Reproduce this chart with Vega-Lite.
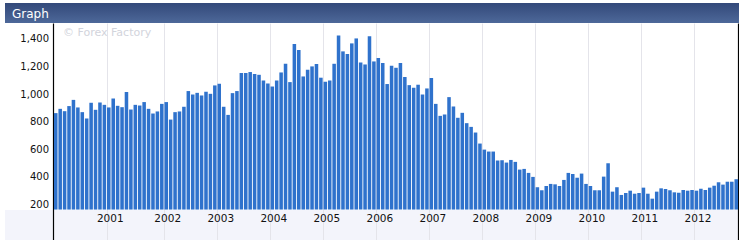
{
  "$schema": "https://vega.github.io/schema/vega-lite/v6.json",
  "background": "white",
  "padding": {"left": 5, "top": 3, "right": 0, "bottom": 0},
  "spacing": 0,
  "config": {"view": {"stroke": null}, "font": "DejaVu Sans", "concat": {"spacing": 0}},
  "datasets": {
    "sales": [
      {"n":1,"v":862},{"n":2,"v":893},{"n":3,"v":876},{"n":4,"v":913},{"n":5,"v":958},{"n":6,"v":903},{"n":7,"v":869},{"n":8,"v":823},{"n":9,"v":937},{"n":10,"v":886},{"n":11,"v":939},{"n":12,"v":922},
      {"n":13,"v":903},{"n":14,"v":968},{"n":15,"v":915},{"n":16,"v":905},{"n":17,"v":1015},{"n":18,"v":888},{"n":19,"v":922},{"n":20,"v":917},{"n":21,"v":942},{"n":22,"v":893},{"n":23,"v":859},{"n":24,"v":874},
      {"n":25,"v":929},{"n":26,"v":942},{"n":27,"v":815},{"n":28,"v":869},{"n":29,"v":874},{"n":30,"v":908},{"n":31,"v":1022},{"n":32,"v":997},{"n":33,"v":1009},{"n":34,"v":990},{"n":35,"v":1017},{"n":36,"v":1002},
      {"n":37,"v":1063},{"n":38,"v":1075},{"n":39,"v":908},{"n":40,"v":849},{"n":41,"v":1007},{"n":42,"v":1022},{"n":43,"v":1153},{"n":44,"v":1153},{"n":45,"v":1160},{"n":46,"v":1145},{"n":47,"v":1140},{"n":48,"v":1099},
      {"n":49,"v":1077},{"n":50,"v":1055},{"n":51,"v":1099},{"n":52,"v":1157},{"n":53,"v":1220},{"n":54,"v":1087},{"n":55,"v":1364},{"n":56,"v":1320},{"n":57,"v":1128},{"n":58,"v":1177},{"n":59,"v":1201},{"n":60,"v":1218},
      {"n":61,"v":1119},{"n":62,"v":1089},{"n":63,"v":1099},{"n":64,"v":1220},{"n":65,"v":1426},{"n":66,"v":1310},{"n":67,"v":1291},{"n":68,"v":1368},{"n":69,"v":1404},{"n":70,"v":1230},{"n":71,"v":1215},{"n":72,"v":1419},
      {"n":73,"v":1237},{"n":74,"v":1262},{"n":75,"v":1225},{"n":76,"v":1073},{"n":77,"v":1206},{"n":78,"v":1191},{"n":79,"v":1225},{"n":80,"v":1124},{"n":81,"v":1065},{"n":82,"v":1046},{"n":83,"v":1068},{"n":84,"v":997},
      {"n":85,"v":1041},{"n":86,"v":1116},{"n":87,"v":929},{"n":88,"v":842},{"n":89,"v":852},{"n":90,"v":978},{"n":91,"v":910},{"n":92,"v":828},{"n":93,"v":864},{"n":94,"v":789},{"n":95,"v":762},{"n":96,"v":721},
      {"n":97,"v":641},{"n":98,"v":597},{"n":99,"v":583},{"n":100,"v":583},{"n":101,"v":518},{"n":102,"v":520},{"n":103,"v":503},{"n":104,"v":522},{"n":105,"v":508},{"n":106,"v":452},{"n":107,"v":457},{"n":108,"v":428},
      {"n":109,"v":399},{"n":110,"v":324},{"n":111,"v":302},{"n":112,"v":333},{"n":113,"v":348},{"n":114,"v":345},{"n":115,"v":333},{"n":116,"v":377},{"n":117,"v":428},{"n":118,"v":420},{"n":119,"v":393},{"n":120,"v":423},
      {"n":121,"v":348},{"n":122,"v":333},{"n":123,"v":302},{"n":124,"v":302},{"n":125,"v":401},{"n":126,"v":498},{"n":127,"v":292},{"n":128,"v":324},{"n":129,"v":268},{"n":130,"v":282},{"n":131,"v":299},{"n":132,"v":277},
      {"n":133,"v":282},{"n":134,"v":321},{"n":135,"v":277},{"n":136,"v":241},{"n":137,"v":292},{"n":138,"v":316},{"n":139,"v":311},{"n":140,"v":302},{"n":141,"v":287},{"n":142,"v":284},{"n":143,"v":304},{"n":144,"v":299},
      {"n":145,"v":304},{"n":146,"v":299},{"n":147,"v":313},{"n":148,"v":304},{"n":149,"v":321},{"n":150,"v":335},{"n":151,"v":360},{"n":152,"v":343},{"n":153,"v":364},{"n":154,"v":364},{"n":155,"v":382}
    ]
  },
  "vconcat": [
    {
      "width": 734,
      "height": 20,
      "data": {"values": [{}]},
      "view": {"fill": "#41598b", "stroke": null},
      "title": {"text": "Graph", "anchor": "start", "frame": "group", "orient": "top", "offset": -17.8, "dx": 7, "color": "white", "fontSize": 12, "fontWeight": "normal", "font": "DejaVu Sans"},
      "mark": {"type": "rect", "color": {"gradient": "linear", "x1": 0, "y1": 0, "x2": 0, "y2": 1, "stops": [{"offset": 0, "color": "#33497a"}, {"offset": 1, "color": "#4d6899"}]}},
      "encoding": {}
    },
    {
      "width": 733,
      "height": 217,
      "data": {"name": "sales"},
      "view": {"stroke": null, "fill": {"gradient": "linear", "x1": 0, "y1": 0, "x2": 0, "y2": 1, "stops": [{"offset": 0, "color": "#ffffff"}, {"offset": 0.8617, "color": "#ffffff"}, {"offset": 0.8618, "color": "#f3f4fb"}, {"offset": 1, "color": "#f3f4fb"}]}},
      "title": {"text": "© Forex Factory", "anchor": "start", "frame": "group", "orient": "top", "offset": -15.3, "dx": 58, "color": "#d2d4dc", "fontSize": 11, "fontWeight": "normal", "font": "DejaVu Sans"},
      "encoding": {
        "x": {
          "field": "n", "type": "ordinal",
          "scale": {"paddingInner": 0.2, "paddingOuter": 0, "range": [49, 733]},
          "axis": {"title": null, "orient": "bottom", "ticks": false, "tickSize": 0, "domain": false, "grid": true, "gridColor": "#e4e4ea", "gridWidth": 1, "bandPosition": 0, "values": [13,26,38,50,62,74,86,98,110,122,134,146], "labelExpr": "2001 + indexof([13,26,38,50,62,74,86,98,110,122,134,146], datum.value)", "labelAngle": 0, "labelBaseline": "middle", "labelPadding": -21.3, "labelOffset": 1.5, "labelFont": "DejaVu Sans", "labelFontSize": 10.5, "labelColor": "#111111"}
        }
      },
      "layer": [
        {
          "mark": {"type": "bar", "color": "#2f72cc"},
          "encoding": {
            "y": {
              "field": "v", "type": "quantitative",
              "scale": {"domain": [-59, 1516], "nice": false, "zero": false},
              "axis": {"title": null, "values": [200,400,600,800,1000,1200,1400], "format": ",d", "grid": false, "ticks": false, "tickSize": 0, "domain": true, "domainColor": "#000000", "domainWidth": 1.2, "offset": -48, "labelPadding": 4.5, "labelFont": "DejaVu Sans", "labelFontSize": 10, "labelColor": "#111111"}
            },
            "y2": {"datum": 162}
          }
        },
        {
          "mark": {"type": "bar", "opacity": 0},
          "encoding": {
            "y": {
              "field": "v", "type": "quantitative",
              "scale": {"domain": [-59, 1516], "nice": false, "zero": false},
              "axis": {"orient": "right", "title": null, "labels": false, "ticks": false, "tickSize": 0, "grid": false, "domain": true, "domainColor": "#000000", "domainWidth": 1.2}
            }
          }
        }
      ],
      "resolve": {"axis": {"y": "independent"}}
    }
  ]
}
